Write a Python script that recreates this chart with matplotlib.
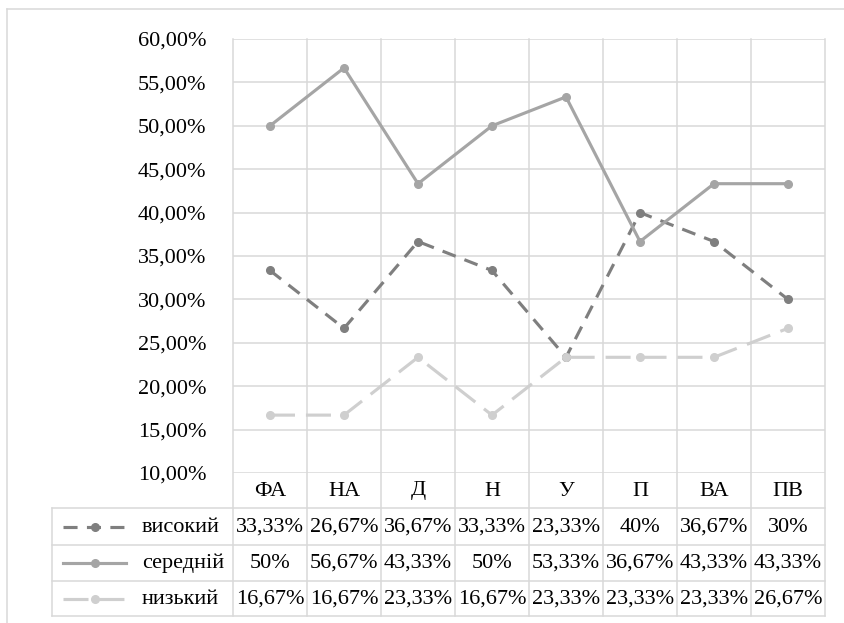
import matplotlib
matplotlib.use('Agg')
import matplotlib.pyplot as plt
from matplotlib.transforms import blended_transform_factory

plt.rcParams['font.family'] = ['Liberation Serif', 'DejaVu Serif']

categories = ['ФА', 'НА', 'Д', 'Н', 'У', 'П', 'ВА', 'ПВ']
high = [33.33, 26.67, 36.67, 33.33, 23.33, 40, 36.67, 30]
mid = [50, 56.67, 43.33, 50, 53.33, 36.67, 43.33, 43.33]
low = [16.67, 16.67, 23.33, 16.67, 23.33, 23.33, 23.33, 26.67]
names = ['високий', 'середній', 'низький']
yticks = [10, 15, 20, 25, 30, 35, 40, 45, 50, 55, 60]

colors = ['#7F7F7F', '#A5A5A5', '#CFCFCF']
styles = [(0, (4.5, 3)), '-', (0, (8, 3.5))]
grid_c = '#D9D9D9'

W, H = 845, 623
fig = plt.figure(figsize=(W / 100, H / 100), dpi=100)


def fx(px):
    return px / W


def fy(py):
    return 1 - py / H


ax = fig.add_axes([fx(233), fy(473), fx(825) - fx(233), fy(39) - fy(473)])
xs = list(range(len(categories)))
for i, vals in enumerate([high, mid, low]):
    ax.plot(xs, vals, color=colors[i], lw=2.25, ls=styles[i], marker='o',
            ms=5.5, zorder=3 + i)

ax.set_xlim(-0.5, len(categories) - 0.5)
ax.set_ylim(10, 60)
ax.set_xticks([])
ax.set_yticks(yticks)
ax.set_yticklabels([f"{v:.2f}%".replace('.', ',') for v in yticks])
ax.tick_params(axis='y', length=0, pad=19, labelsize=16)
ax.grid(axis='y', color=grid_c, lw=1.1)
for s in ax.spines.values():
    s.set_visible(False)

bt = blended_transform_factory(ax.transData, fig.transFigure)

# vertical lines of plot area + table
for k in range(len(categories) + 1):
    b = k - 0.5
    ax.plot([b, b], [fy(39), fy(616)], transform=bt, color=grid_c, lw=1.1,
            clip_on=False, zorder=1)

# table horizontal lines
rows_y = [508, 545, 581, 616]
for py in rows_y:
    fig.add_artist(plt.Line2D([fx(52), fx(825)], [fy(py), fy(py)],
                              color=grid_c, lw=1.1))
fig.add_artist(plt.Line2D([fx(52), fx(52)], [fy(508), fy(616)],
                          color=grid_c, lw=1.1))

# outer chart border
fig.add_artist(plt.Line2D([fx(7), 1], [fy(9), fy(9)], color=grid_c, lw=1.1))
fig.add_artist(plt.Line2D([fx(7), fx(7)], [fy(9), 0], color=grid_c, lw=1.1))

# header row
for i, c in enumerate(categories):
    ax.text(i, fy(491), c, transform=bt, ha='center', va='center', fontsize=16)


def fmt(v):
    s = f"{v:.2f}".rstrip('0').rstrip('.')
    return s.replace('.', ',') + '%'


centers = [527, 563, 599]
for r, vals in enumerate([high, mid, low]):
    yc = fy(centers[r])
    for i, v in enumerate(vals):
        ax.text(i, yc, fmt(v), transform=bt, ha='center', va='center',
                fontsize=16)
    fig.add_artist(plt.Line2D([fx(63), fx(126)], [yc, yc], color=colors[r],
                              lw=2.25, ls=styles[r]))
    fig.add_artist(plt.Line2D([fx(95)], [yc], color=colors[r], marker='o',
                              ms=5.5, lw=0))
    fig.text(fx(142), yc, names[r], ha='left', va='center', fontsize=16)

fig.savefig('out.png', dpi=100)
